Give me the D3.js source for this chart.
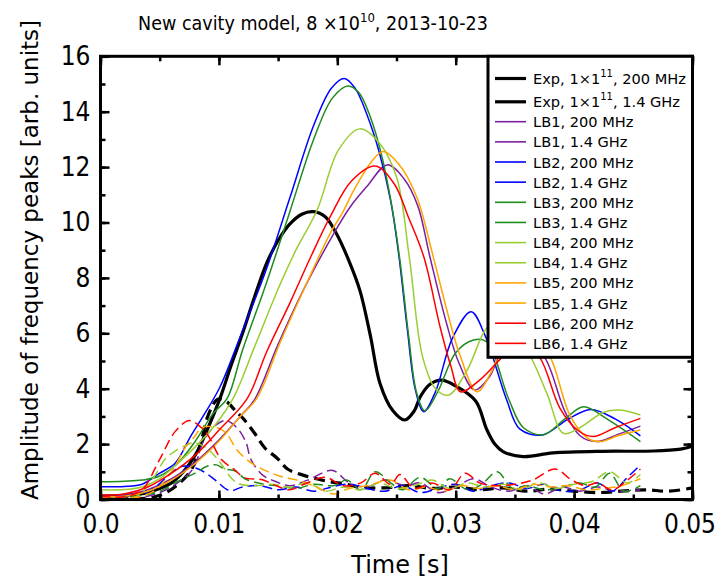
<!DOCTYPE html>
<html>
<head>
<meta charset="utf-8">
<script src="https://cdn.jsdelivr.net/npm/d3@7/dist/d3.min.js"></script>
<style>
body { margin: 0; background: #fff; }
svg { display: block; }
</style>
</head>
<body>
<svg id="chart" width="717" height="583"></svg>
<script>
// [time s, amplitude]
var exp200 = [[0,0.12],[0.002,0.15],[0.004,0.25],[0.005,0.4],[0.006,0.6],[0.007,1.0],[0.008,1.6],[0.009,2.5],[0.0101,3.66],[0.011,4.8],[0.012,6.0],[0.013,7.3],[0.014,8.5],[0.015,9.35],[0.016,9.95],[0.017,10.3],[0.018,10.39],[0.019,10.2],[0.0199,9.62],[0.021,8.6],[0.0219,7.56],[0.0228,5.9],[0.0236,4.2],[0.0247,3.2],[0.0257,2.87],[0.0265,3.2],[0.027,3.7],[0.0278,4.15],[0.0288,4.31],[0.03,4.1],[0.0317,3.55],[0.0326,2.55],[0.0333,2.0],[0.034,1.73],[0.0357,1.55],[0.0382,1.68],[0.0424,1.74],[0.0467,1.75],[0.049,1.82],[0.05,1.92]];
var exp14 = [[0,0.02],[0.002,0.02],[0.004,0.05],[0.005,0.15],[0.0063,0.46],[0.0077,1.1],[0.0085,2.1],[0.0091,3.05],[0.0099,3.62],[0.0106,3.55],[0.0114,3.2],[0.0121,2.9],[0.013,2.4],[0.0139,1.85],[0.0149,1.5],[0.0158,1.1],[0.0171,0.88],[0.0185,0.72],[0.0194,0.64],[0.0208,0.55],[0.0217,0.45],[0.024,0.42],[0.026,0.5],[0.028,0.4],[0.03,0.45],[0.032,0.35],[0.034,0.42],[0.036,0.3],[0.038,0.38],[0.04,0.3],[0.042,0.25],[0.044,0.3],[0.046,0.35],[0.048,0.3],[0.05,0.42]];

var lb1_200 = [[0,0.12],[0.002,0.15],[0.004,0.35],[0.006,0.75],[0.008,1.35],[0.01,2.15],[0.0118,3.0],[0.013,3.6],[0.015,5.6],[0.0173,7.7],[0.0197,9.6],[0.0211,10.57],[0.0225,11.3],[0.0242,12.08],[0.0256,11.6],[0.0268,10.6],[0.0278,8.8],[0.0292,6.4],[0.0303,4.9],[0.0316,3.95],[0.0328,4.4],[0.0337,5.2],[0.0352,6.1],[0.0375,5.14],[0.0392,3.2],[0.0405,2.3],[0.0419,2.09],[0.0437,2.35],[0.0456,2.65]];
var lb1_14 = [[0,0.05],[0.003,0.05],[0.005,0.25],[0.0065,0.6],[0.0078,1.1],[0.0088,2.2],[0.0098,2.7],[0.0106,2.85],[0.0116,2.55],[0.0123,2.05],[0.0127,1.45],[0.0137,0.88],[0.0148,0.65],[0.016,0.5],[0.0175,0.7],[0.0196,1.05],[0.021,0.6],[0.0225,0.45],[0.024,0.7],[0.0258,0.5],[0.027,0.6],[0.0285,0.25],[0.03,0.45],[0.0315,0.75],[0.033,0.45],[0.0345,0.3],[0.036,0.5],[0.0375,0.2],[0.039,0.45],[0.0405,0.3],[0.042,0.45],[0.0435,0.3],[0.0456,0.35]];
var lb2_200 = [[0,0.46],[0.002,0.47],[0.0035,0.55],[0.005,0.95],[0.0063,1.31],[0.0076,2.27],[0.0088,3.1],[0.0101,4.07],[0.012,6.1],[0.014,8.3],[0.016,10.9],[0.018,13.5],[0.0195,14.85],[0.0206,15.2],[0.0215,14.85],[0.0225,13.9],[0.0235,12.6],[0.0245,10.8],[0.0252,8.8],[0.0259,6.2],[0.0266,3.95],[0.0273,3.17],[0.0283,3.9],[0.0297,5.8],[0.0313,6.78],[0.0325,5.9],[0.0343,3.6],[0.0354,2.55],[0.0373,2.33],[0.0395,2.9],[0.0414,3.25],[0.0435,2.9],[0.0456,2.3]];
var lb2_14 = [[0,0.05],[0.003,0.1],[0.0045,0.4],[0.0058,0.9],[0.0069,1.2],[0.0081,1.13],[0.0089,0.95],[0.0097,0.7],[0.0109,0.32],[0.012,0.45],[0.0135,0.5],[0.015,0.35],[0.0165,0.45],[0.018,0.3],[0.0195,0.45],[0.021,0.55],[0.0225,0.4],[0.024,0.3],[0.0255,0.5],[0.027,0.25],[0.0285,0.4],[0.03,0.55],[0.0315,0.3],[0.033,0.5],[0.0345,0.6],[0.036,0.4],[0.0375,0.55],[0.039,0.3],[0.0405,0.35],[0.042,0.6],[0.0432,0.3],[0.0445,0.8],[0.0456,1.25]];
var lb3_200 = [[0,0.64],[0.002,0.66],[0.0035,0.7],[0.005,0.85],[0.0065,1.3],[0.008,2.1],[0.0095,3.1],[0.0107,3.65],[0.012,5.4],[0.014,7.8],[0.016,10.4],[0.018,13.0],[0.0196,14.5],[0.0209,14.93],[0.0218,14.7],[0.0228,13.8],[0.0237,12.5],[0.0246,10.6],[0.0253,8.6],[0.026,6.0],[0.0267,3.85],[0.0274,3.2],[0.0285,3.9],[0.03,5.3],[0.0315,5.76],[0.0326,5.7],[0.0345,3.6],[0.0357,2.6],[0.0374,2.33],[0.0392,2.9],[0.0408,3.35],[0.0428,2.9],[0.0456,2.09]];
var lb3_14 = [[0,0.1],[0.003,0.12],[0.005,0.3],[0.0065,0.65],[0.008,0.95],[0.009,1.2],[0.0098,1.25],[0.0105,1.1],[0.0114,1.03],[0.0122,0.75],[0.0138,0.55],[0.015,0.5],[0.0165,0.4],[0.018,0.55],[0.0197,0.5],[0.0208,0.7],[0.022,0.35],[0.0232,1.0],[0.0245,0.6],[0.0255,0.35],[0.027,0.8],[0.0285,0.4],[0.0295,0.75],[0.031,0.35],[0.0322,0.55],[0.0335,1.0],[0.0348,0.4],[0.036,0.5],[0.0375,0.35],[0.039,0.45],[0.0405,0.6],[0.0418,0.45],[0.043,0.95],[0.0442,0.3],[0.0456,0.5]];
var lb4_200 = [[0,0.35],[0.002,0.36],[0.0035,0.45],[0.005,0.75],[0.0065,1.3],[0.008,1.9],[0.0097,2.7],[0.0112,3.65],[0.013,5.5],[0.015,7.6],[0.0165,9.0],[0.0183,10.45],[0.0201,12.62],[0.0219,13.38],[0.0235,12.9],[0.025,11.65],[0.0261,8.68],[0.0272,5.16],[0.0283,4.0],[0.0294,3.77],[0.031,4.7],[0.0326,6.18],[0.0338,6.5],[0.036,5.4],[0.0377,3.83],[0.0391,2.39],[0.0405,2.6],[0.0425,3.15],[0.0439,3.23],[0.0456,3.05]];
var lb4_14 = [[0,0.08],[0.003,0.1],[0.0045,0.8],[0.0054,1.43],[0.0063,1.75],[0.0072,1.95],[0.0079,2.05],[0.0088,1.9],[0.0096,1.6],[0.0103,1.22],[0.0111,0.75],[0.0118,0.55],[0.0131,0.5],[0.0145,0.55],[0.016,0.45],[0.0175,0.6],[0.019,0.3],[0.0205,0.45],[0.022,0.35],[0.0235,0.6],[0.025,0.4],[0.0265,0.5],[0.028,0.7],[0.0295,0.4],[0.031,0.6],[0.0325,0.45],[0.034,0.55],[0.0355,0.35],[0.037,0.6],[0.0385,0.4],[0.04,0.55],[0.0415,0.65],[0.043,1.0],[0.0445,0.6],[0.0456,0.9]];
var lb5_200 = [[0,0.1],[0.002,0.12],[0.004,0.3],[0.006,0.7],[0.008,1.3],[0.01,2.1],[0.0118,3.0],[0.0132,3.65],[0.0152,5.7],[0.0173,7.7],[0.0194,9.61],[0.0205,10.4],[0.0214,11.17],[0.023,12.26],[0.0239,12.56],[0.0252,12.1],[0.0267,10.93],[0.0281,8.77],[0.0294,6.6],[0.0304,5.16],[0.0318,3.89],[0.033,4.6],[0.0348,6.3],[0.0365,6.0],[0.038,5.13],[0.0397,2.99],[0.0412,2.2],[0.0422,2.09],[0.0437,2.3],[0.0456,2.51]];
var lb5_14 = [[0,0.05],[0.003,0.08],[0.0045,0.3],[0.006,1.0],[0.0072,1.9],[0.0079,2.25],[0.0086,2.6],[0.0098,2.6],[0.0106,2.4],[0.0116,1.75],[0.0128,1.3],[0.0139,1.05],[0.0151,0.85],[0.0166,0.7],[0.018,0.5],[0.0197,0.2],[0.021,0.4],[0.0225,0.5],[0.0245,0.7],[0.026,0.35],[0.0275,0.45],[0.029,0.3],[0.0305,0.5],[0.032,0.4],[0.0335,0.5],[0.035,0.35],[0.0365,0.55],[0.038,0.45],[0.0395,0.5],[0.041,0.35],[0.0425,0.4],[0.044,0.5],[0.0456,0.75]];
var lb6_200 = [[0,0.16],[0.002,0.2],[0.004,0.45],[0.006,0.95],[0.008,1.6],[0.01,2.5],[0.0124,3.65],[0.014,5.3],[0.016,7.1],[0.0178,8.8],[0.0194,10.21],[0.0212,11.5],[0.0232,12.04],[0.0248,11.4],[0.026,10.2],[0.0273,8.77],[0.0287,6.2],[0.0296,4.8],[0.0304,3.89],[0.032,4.3],[0.0337,5.04],[0.0354,5.8],[0.0371,5.13],[0.0388,3.3],[0.0403,2.5],[0.0416,2.27],[0.0435,2.6],[0.0456,2.93]];
var lb6_14 = [[0,0.12],[0.002,0.1],[0.0035,0.35],[0.005,1.45],[0.0063,2.45],[0.0075,2.85],[0.0085,2.6],[0.0091,2.3],[0.0102,1.45],[0.0113,1.08],[0.0122,0.78],[0.0136,0.72],[0.0148,0.5],[0.016,0.35],[0.0172,0.55],[0.019,0.8],[0.0205,0.5],[0.022,0.6],[0.0232,0.95],[0.0245,0.55],[0.0253,0.9],[0.0265,0.4],[0.028,0.6],[0.0295,0.35],[0.0308,0.95],[0.032,0.6],[0.0335,0.5],[0.035,0.55],[0.0365,0.7],[0.0384,1.1],[0.0398,0.7],[0.041,0.5],[0.042,0.6],[0.0432,0.35],[0.0445,0.7],[0.0456,1.1]];

var xTicks = [0, 0.01, 0.02, 0.03, 0.04, 0.05];
var yTicks = [0, 2, 4, 6, 8, 10, 12, 14, 16];
var legendNames = ['Exp, 1\u00d71|11|, 200 MHz', 'Exp, 1\u00d71|11|, 1.4 GHz',
    'LB1, 200 MHz', 'LB1, 1.4 GHz', 'LB2, 200 MHz', 'LB2, 1.4 GHz',
    'LB3, 200 MHz', 'LB3, 1.4 GHz', 'LB4, 200 MHz', 'LB4, 1.4 GHz',
    'LB5, 200 MHz', 'LB5, 1.4 GHz', 'LB6, 200 MHz', 'LB6, 1.4 GHz'];

var seriesData = [exp200, exp14, lb1_200, lb1_14, lb2_200, lb2_14, lb3_200, lb3_14,
    lb4_200, lb4_14, lb5_200, lb5_14, lb6_200, lb6_14];
var palette = ['#000', '#000', '#7b1fa2', '#7b1fa2', '#0000ff', '#0000ff', '#1e8c1e', '#1e8c1e',
    '#9acd32', '#9acd32', '#ffa500', '#ffa500', '#ff0000', '#ff0000'];

var pad = { left: 100.5, right: 692.5, top: 56.3, bottom: 499.5 };
var numFont = '"Liberation Sans Narrow", "DejaVu Sans Condensed", sans-serif';
var textFont = '"DejaVu Sans", sans-serif';

var svg = d3.select('#chart');
var xScale = d3.scaleLinear().domain([0, 0.05]).range([pad.left, pad.right]);
var yScale = d3.scaleLinear().domain([0, 16]).range([pad.bottom, pad.top]);

function drawAxes() {
    var fmtX = function (d) { return d === 0 ? '0.0' : d3.format('.2f')(d); };
    var minorX = d3.range(0, 0.0501, 0.005);
    var minorY = d3.range(0, 16.1, 1);

    // minor ticks first, no labels
    svg.append('g').attr('transform', 'translate(0,' + pad.bottom + ')')
        .call(d3.axisBottom(xScale).tickValues(minorX).tickSize(-5).tickFormat(''));
    svg.append('g').attr('transform', 'translate(0,' + pad.top + ')')
        .call(d3.axisTop(xScale).tickValues(minorX).tickSize(-5).tickFormat(''));
    svg.append('g').attr('transform', 'translate(' + pad.left + ',0)')
        .call(d3.axisLeft(yScale).tickValues(minorY).tickSize(-5).tickFormat(''));
    svg.append('g').attr('transform', 'translate(' + pad.right + ',0)')
        .call(d3.axisRight(yScale).tickValues(minorY).tickSize(-5).tickFormat(''));

    var xb = svg.append('g').attr('class', 'x')
        .attr('transform', 'translate(0,' + pad.bottom + ')')
        .call(d3.axisBottom(xScale).tickValues(xTicks).tickSize(-9).tickPadding(15).tickFormat(fmtX));
    svg.append('g').attr('transform', 'translate(0,' + pad.top + ')')
        .call(d3.axisTop(xScale).tickValues(xTicks).tickSize(-9).tickFormat(''));
    var yl = svg.append('g').attr('class', 'y')
        .attr('transform', 'translate(' + pad.left + ',0)')
        .call(d3.axisLeft(yScale).tickValues(yTicks).tickSize(-9).tickPadding(10));
    svg.append('g').attr('transform', 'translate(' + pad.right + ',0)')
        .call(d3.axisRight(yScale).tickValues(yTicks).tickSize(-9).tickFormat(''));

    svg.selectAll('.domain').remove();
    svg.selectAll('.tick line').attr('stroke', '#000').attr('stroke-width', 2.5);
    xb.selectAll('text').attr('font-family', numFont).attr('font-size', 26).attr('fill', '#000');
    yl.selectAll('text').attr('font-family', numFont).attr('font-size', 26).attr('fill', '#000');
    // last label would run past the right edge
    xb.selectAll('text').filter(function (d) { return d === 0.05; })
        .attr('text-anchor', 'end').attr('x', 23);

    svg.append('rect')
        .attr('x', pad.left).attr('y', pad.top)
        .attr('width', pad.right - pad.left).attr('height', pad.bottom - pad.top)
        .attr('fill', 'none').attr('stroke', '#000').attr('stroke-width', 3);
}

function drawLines() {
    svg.append('clipPath').attr('id', 'plotclip').append('rect')
        .attr('x', pad.left).attr('y', pad.top)
        .attr('width', pad.right - pad.left).attr('height', pad.bottom - pad.top);
    var line = d3.line()
        .x(function (d) { return xScale(d[0]); })
        .y(function (d) { return yScale(d[1]); })
        .curve(d3.curveCatmullRom.alpha(0.5));
    var g = svg.append('g').attr('clip-path', 'url(#plotclip)');
    g.selectAll('path').data(seriesData).enter().append('path')
        .attr('d', line)
        .attr('fill', 'none')
        .attr('stroke', function (d, i) { return palette[i]; })
        .attr('stroke-width', function (d, i) { return i < 2 ? 3.2 : 1.5; })
        .attr('stroke-dasharray', function (d, i) {
            if (i % 2 === 0) return null;
            return i < 2 ? '11,6' : '10,5';
        })
        .attr('stroke-linejoin', 'round');
}

function drawLegend() {
    var box = { x: 488, y: pad.top, w: pad.right - 488, h: 301 };
    var lg = svg.append('g').attr('class', 'legend');
    lg.append('rect')
        .attr('x', box.x).attr('y', box.y).attr('width', box.w).attr('height', box.h)
        .attr('fill', '#fff').attr('stroke', '#000').attr('stroke-width', 3);
    var rowY = function (i) { return i < 2 ? 78.5 + i * 23.3 : 121.7 + (i - 2) * 20.15; };
    var rows = lg.selectAll('g.row').data(legendNames).enter().append('g').attr('class', 'row');
    rows.append('line')
        .attr('x1', 495).attr('x2', 526)
        .attr('y1', function (d, i) { return rowY(i); })
        .attr('y2', function (d, i) { return rowY(i); })
        .attr('stroke', function (d, i) { return palette[i]; })
        .attr('stroke-width', function (d, i) { return i < 2 ? 3.2 : 1.6; });
    rows.append('text')
        .attr('x', 533)
        .attr('y', function (d, i) { return rowY(i) + 5.5; })
        .attr('font-family', textFont).attr('font-size', 14.6).attr('fill', '#000')
        .each(function (d) {
            var parts = d.split('|');
            var t = d3.select(this);
            parts.forEach(function (p, k) {
                var s = t.append('tspan').text(p);
                if (k === 1) s.attr('font-size', 10).attr('dy', -7);
                if (k === 2) s.attr('dy', 7);
            });
        });
}

function drawLabels() {
    var title = svg.append('text')
        .attr('x', 313).attr('y', 30).attr('text-anchor', 'middle')
        .attr('font-family', numFont).attr('font-size', 19.5).attr('fill', '#000');
    title.append('tspan').text('New cavity model, 8 \u00d710');
    title.append('tspan').text('10').attr('font-size', 13).attr('dy', -8);
    title.append('tspan').text(', 2013-10-23').attr('dy', 8);

    svg.append('text')
        .attr('x', 400).attr('y', 573).attr('text-anchor', 'middle')
        .attr('font-family', textFont).attr('font-size', 24).attr('fill', '#000')
        .text('Time [s]');
    svg.append('text')
        .attr('transform', 'translate(38,260) rotate(-90)')
        .attr('text-anchor', 'middle')
        .attr('font-family', textFont).attr('font-size', 23).attr('fill', '#000')
        .text('Amplitude of frequency peaks [arb. units]');
}

drawLines();
drawAxes();
drawLegend();
drawLabels();
</script>
</body>
</html>
